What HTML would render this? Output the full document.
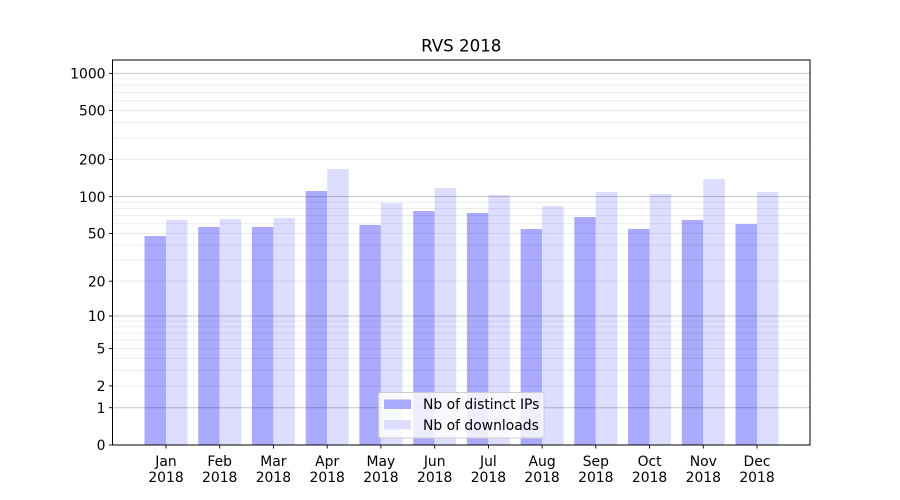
<!DOCTYPE html>
<html><head><meta charset="utf-8"><style>
html,body{margin:0;padding:0;background:#fff;}
svg{display:block;}
text{font-family:"DejaVu Sans","Liberation Sans",sans-serif;fill:#000;}
</style></head><body>
<svg width="900" height="500" viewBox="0 0 900 500" xmlns="http://www.w3.org/2000/svg">
<rect x="0" y="0" width="900" height="500" fill="#fff"/>
<g fill="#aaaaff">
<rect x="144.5" y="236" width="21.5" height="209"/>
<rect x="198.2" y="227" width="21.5" height="218"/>
<rect x="251.9" y="227" width="21.5" height="218"/>
<rect x="305.7" y="191" width="21.5" height="254"/>
<rect x="359.4" y="225" width="21.5" height="220"/>
<rect x="413.2" y="211" width="21.5" height="234"/>
<rect x="466.9" y="213" width="21.5" height="232"/>
<rect x="520.6" y="229" width="21.5" height="216"/>
<rect x="574.3" y="217" width="21.5" height="228"/>
<rect x="628.1" y="229" width="21.5" height="216"/>
<rect x="681.8" y="220" width="21.5" height="225"/>
<rect x="735.5" y="224" width="21.5" height="221"/>
</g>
<g fill="#ddddff">
<rect x="166" y="220" width="21.5" height="225"/>
<rect x="219.7" y="219" width="21.5" height="226"/>
<rect x="273.4" y="218" width="21.5" height="227"/>
<rect x="327.2" y="169" width="21.5" height="276"/>
<rect x="380.9" y="203" width="21.5" height="242"/>
<rect x="434.7" y="188" width="21.5" height="257"/>
<rect x="488.4" y="195" width="21.5" height="250"/>
<rect x="542.1" y="206" width="21.5" height="239"/>
<rect x="595.8" y="192" width="21.5" height="253"/>
<rect x="649.6" y="194" width="21.5" height="251"/>
<rect x="703.3" y="179" width="21.5" height="266"/>
<rect x="757" y="192" width="21.5" height="253"/>
</g>
<g stroke="#000" stroke-opacity="0.075" stroke-width="1">
<line x1="112.5" x2="810" y1="385.89" y2="385.89"/>
<line x1="112.5" x2="810" y1="370.41" y2="370.41"/>
<line x1="112.5" x2="810" y1="358.40" y2="358.40"/>
<line x1="112.5" x2="810" y1="348.59" y2="348.59"/>
<line x1="112.5" x2="810" y1="340.29" y2="340.29"/>
<line x1="112.5" x2="810" y1="333.11" y2="333.11"/>
<line x1="112.5" x2="810" y1="326.77" y2="326.77"/>
<line x1="112.5" x2="810" y1="321.10" y2="321.10"/>
<line x1="112.5" x2="810" y1="281.18" y2="281.18"/>
<line x1="112.5" x2="810" y1="260.22" y2="260.22"/>
<line x1="112.5" x2="810" y1="245.18" y2="245.18"/>
<line x1="112.5" x2="810" y1="233.43" y2="233.43"/>
<line x1="112.5" x2="810" y1="223.80" y2="223.80"/>
<line x1="112.5" x2="810" y1="215.63" y2="215.63"/>
<line x1="112.5" x2="810" y1="208.54" y2="208.54"/>
<line x1="112.5" x2="810" y1="202.27" y2="202.27"/>
<line x1="112.5" x2="810" y1="159.55" y2="159.55"/>
<line x1="112.5" x2="810" y1="137.90" y2="137.90"/>
<line x1="112.5" x2="810" y1="122.47" y2="122.47"/>
<line x1="112.5" x2="810" y1="110.57" y2="110.57"/>
<line x1="112.5" x2="810" y1="100.70" y2="100.70"/>
<line x1="112.5" x2="810" y1="92.42" y2="92.42"/>
<line x1="112.5" x2="810" y1="85.24" y2="85.24"/>
<line x1="112.5" x2="810" y1="78.91" y2="78.91"/>
</g>
<g stroke="#000" stroke-opacity="0.22" stroke-width="1">
<line x1="112.5" x2="810" y1="407.70" y2="407.70"/>
<line x1="112.5" x2="810" y1="315.97" y2="315.97"/>
<line x1="112.5" x2="810" y1="196.67" y2="196.67"/>
<line x1="112.5" x2="810" y1="73.35" y2="73.35"/>
</g>
<rect x="112.5" y="60" width="697.5" height="385" fill="none" stroke="#000" stroke-width="1"/>
<g stroke="#000" stroke-width="0.9">
<line x1="109" x2="112.5" y1="445" y2="445"/>
<line x1="109" x2="112.5" y1="407.70" y2="407.70"/>
<line x1="109" x2="112.5" y1="385.89" y2="385.89"/>
<line x1="109" x2="112.5" y1="348.59" y2="348.59"/>
<line x1="109" x2="112.5" y1="315.97" y2="315.97"/>
<line x1="109" x2="112.5" y1="281.18" y2="281.18"/>
<line x1="109" x2="112.5" y1="233.43" y2="233.43"/>
<line x1="109" x2="112.5" y1="196.67" y2="196.67"/>
<line x1="109" x2="112.5" y1="159.55" y2="159.55"/>
<line x1="109" x2="112.5" y1="110.57" y2="110.57"/>
<line x1="109" x2="112.5" y1="73.35" y2="73.35"/>
<line x1="166" x2="166" y1="445" y2="448.5"/>
<line x1="219.7" x2="219.7" y1="445" y2="448.5"/>
<line x1="273.4" x2="273.4" y1="445" y2="448.5"/>
<line x1="327.2" x2="327.2" y1="445" y2="448.5"/>
<line x1="380.9" x2="380.9" y1="445" y2="448.5"/>
<line x1="434.7" x2="434.7" y1="445" y2="448.5"/>
<line x1="488.4" x2="488.4" y1="445" y2="448.5"/>
<line x1="542.1" x2="542.1" y1="445" y2="448.5"/>
<line x1="595.8" x2="595.8" y1="445" y2="448.5"/>
<line x1="649.6" x2="649.6" y1="445" y2="448.5"/>
<line x1="703.3" x2="703.3" y1="445" y2="448.5"/>
<line x1="757" x2="757" y1="445" y2="448.5"/>
</g>
<g font-size="13.9" text-anchor="end">
<text x="105.5" y="450.1">0</text>
<text x="105.5" y="412.8">1</text>
<text x="105.5" y="391">2</text>
<text x="105.5" y="353.7">5</text>
<text x="105.5" y="321.1">10</text>
<text x="105.5" y="286.3">20</text>
<text x="105.5" y="238.5">50</text>
<text x="105.5" y="201.8">100</text>
<text x="105.5" y="164.6">200</text>
<text x="105.5" y="115.7">500</text>
<text x="105.5" y="78.4">1000</text>
</g>
<g font-size="13.9" text-anchor="middle">
<text x="166" y="466">Jan</text><text x="166" y="482">2018</text>
<text x="219.7" y="466">Feb</text><text x="219.7" y="482">2018</text>
<text x="273.4" y="466">Mar</text><text x="273.4" y="482">2018</text>
<text x="327.2" y="466">Apr</text><text x="327.2" y="482">2018</text>
<text x="380.9" y="466">May</text><text x="380.9" y="482">2018</text>
<text x="434.7" y="466">Jun</text><text x="434.7" y="482">2018</text>
<text x="488.4" y="466">Jul</text><text x="488.4" y="482">2018</text>
<text x="542.1" y="466">Aug</text><text x="542.1" y="482">2018</text>
<text x="595.8" y="466">Sep</text><text x="595.8" y="482">2018</text>
<text x="649.6" y="466">Oct</text><text x="649.6" y="482">2018</text>
<text x="703.3" y="466">Nov</text><text x="703.3" y="482">2018</text>
<text x="757" y="466">Dec</text><text x="757" y="482">2018</text>
</g>
<text x="461.25" y="51.7" font-size="16.67" text-anchor="middle">RVS 2018</text>
<rect x="378.5" y="392.5" width="165.5" height="45.5" rx="2.5" fill="#fff" fill-opacity="0.8" stroke="#cccccc" stroke-width="1"/>
<rect x="384" y="399.5" width="27" height="9.5" fill="#aaaaff"/>
<rect x="384" y="420" width="27" height="9.5" fill="#ddddff"/>
<g font-size="13.9">
<text x="423" y="409">Nb of distinct IPs</text>
<text x="423" y="430">Nb of downloads</text>
</g>
</svg>
</body></html>
